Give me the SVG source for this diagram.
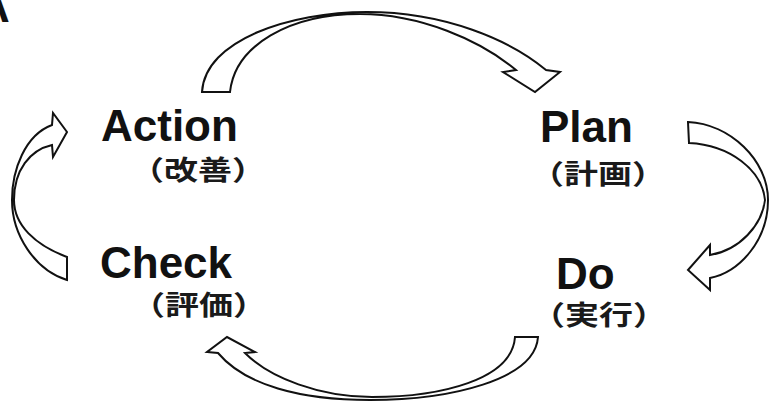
<svg xmlns="http://www.w3.org/2000/svg" width="770" height="401" viewBox="0 0 770 401">
<style>
.arrow{fill:#fff;stroke:#111;stroke-width:2;stroke-linejoin:miter}
.en{font-family:"Liberation Sans",Arial,sans-serif;font-weight:bold;font-size:44px;fill:#111}
.jp{font-family:"Noto Sans CJK JP","Noto Sans CJK SC",sans-serif;font-weight:bold;font-size:27px;fill:#1a1a1a}
</style>
<rect width="770" height="401" fill="#fff"/>
<text class="en" x="-22" y="22">A</text>
<g id="connectors">
<path class="arrow" d="M202,92 C205,40 290,12 367,12 C445,12 510,40 546,70 L560,72 L535,92 L503,72 L516,70 C480,40 420,14 360,14 C290,14 235,45 230,92 Z"/>
<path class="arrow" d="M688,122 C730,124 768,160 768,200 C768,240 740,272 710,278 L710,290 L688,270 L710,245 L710,255 C740,250 762,225 765,200 C762,170 730,145 689,143 Z"/>
<path class="arrow" d="M538,337 C535,380 450,400 370,400 C300,400 245,385 218,353 L207,352 L227,337 L255,352 L245,353 C270,378 320,397 372,397 C440,397 512,380 515,337 Z"/>
<path class="arrow" d="M67,257 C35,245 14,225 14,200 C14,170 30,150 52,145 L53,157 L67,132 L53,113 L52,125 C25,135 12,170 12,200 C12,235 35,270 67,280 Z"/>
</g>
<g id="action">
<text class="en" x="101" y="141">Action</text>
<text class="jp" x="130" y="180" textLength="136" lengthAdjust="spacingAndGlyphs">（改善）</text>
</g>
<g id="plan">
<text class="en" x="540" y="142">Plan</text>
<text class="jp" x="530" y="184" textLength="136" lengthAdjust="spacingAndGlyphs">（計画）</text>
</g>
<g id="check">
<text class="en" x="100" y="278">Check</text>
<text class="jp" x="131" y="315" textLength="136" lengthAdjust="spacingAndGlyphs">（評価）</text>
</g>
<g id="do">
<text class="en" x="556" y="289">Do</text>
<text class="jp" x="531" y="325" textLength="136" lengthAdjust="spacingAndGlyphs">（実行）</text>
</g>
</svg>
